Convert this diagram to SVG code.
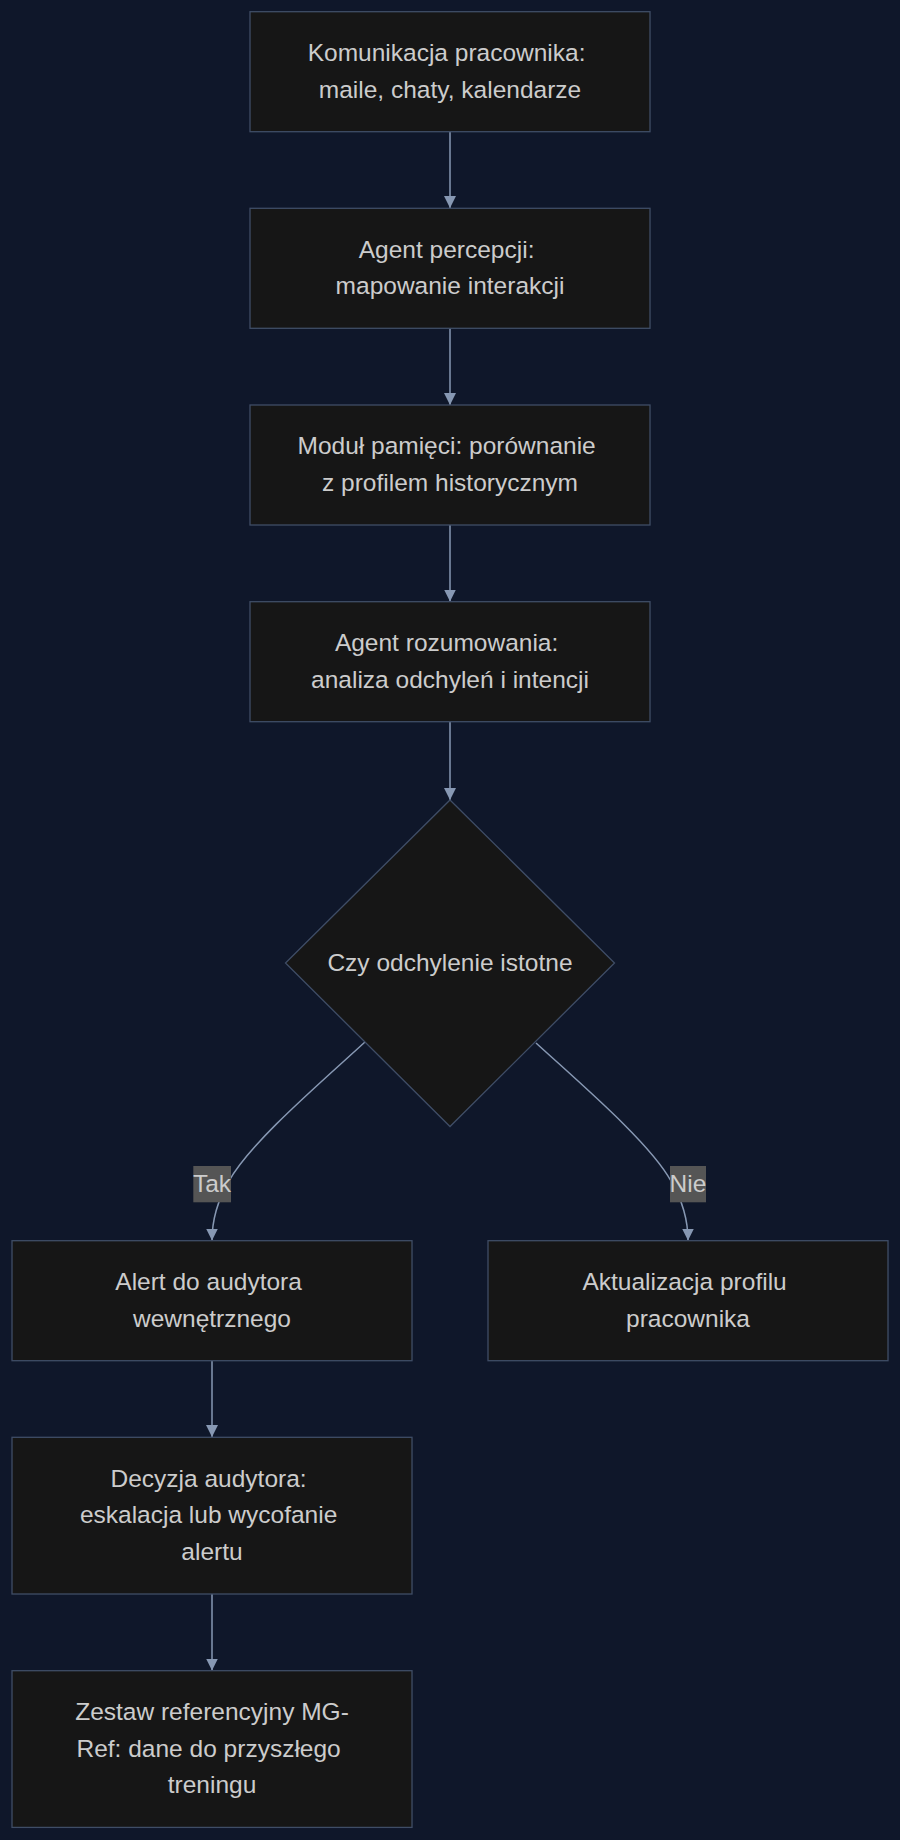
<svg xmlns="http://www.w3.org/2000/svg" width="900" height="1840" viewBox="0 0 900 1840">
<defs>
<style>
.node rect,.node polygon{fill:#161616;stroke:#3f4d66;stroke-width:1.3}
.node text,.lbl text{font-family:"Liberation Sans",Arial,sans-serif;font-size:24.5px;fill:#cccccc;text-anchor:middle}
.edge{fill:none;stroke:#8798b3;stroke-width:1.5}
.lbl rect{fill:#555555}
</style>
<marker id="ah" viewBox="0 0 12 12" refX="12" refY="6" markerWidth="12" markerHeight="12" markerUnits="userSpaceOnUse" orient="auto">
<path d="M0,0 L12,6 L0,12 z" fill="#8798b3"/>
</marker>
</defs>
<rect x="0" y="0" width="900" height="1840" fill="#0f172a"/>
<g id="connectors">
<path class="edge" d="M450,132 L450,208" marker-end="url(#ah)"/>
<path class="edge" d="M450,328 L450,405" marker-end="url(#ah)"/>
<path class="edge" d="M450,525 L450,601.5" marker-end="url(#ah)"/>
<path class="edge" d="M450,722 L450,800" marker-end="url(#ah)"/>
<path class="edge" d="M365,1042 C318,1085 250,1143 229,1181 Q212,1210 212,1240.5" marker-end="url(#ah)"/>
<path class="edge" d="M536,1043 C582,1085 650,1143 671,1181 Q688,1210 688,1240.5" marker-end="url(#ah)"/>
<path class="edge" d="M212,1361 L212,1437" marker-end="url(#ah)"/>
<path class="edge" d="M212,1594 L212,1670.5" marker-end="url(#ah)"/>
</g>
<g id="n1" class="node">
<rect x="250" y="11.7" width="400" height="120"/>
<text x="446.6" y="61">Komunikacja pracownika:</text>
<text x="450" y="97.7">maile, chaty, kalendarze</text>
</g>
<g id="n2" class="node">
<rect x="250" y="208.3" width="400" height="120"/>
<text x="446.6" y="257.6">Agent percepcji:</text>
<text x="450" y="294.3">mapowanie interakcji</text>
</g>
<g id="n3" class="node">
<rect x="250" y="405" width="400" height="120"/>
<text x="446.6" y="454.3">Moduł pamięci: porównanie</text>
<text x="450" y="491">z profilem historycznym</text>
</g>
<g id="n4" class="node">
<rect x="250" y="601.7" width="400" height="120"/>
<text x="446.6" y="651">Agent rozumowania:</text>
<text x="450" y="687.7">analiza odchyleń i intencji</text>
</g>
<g id="n5" class="node">
<polygon points="450,800 614.5,963 450,1126.5 285.5,963"/>
<text x="450" y="970.5">Czy odchylenie istotne</text>
</g>
<g id="n6" class="node">
<rect x="12" y="1240.7" width="400" height="120"/>
<text x="208.6" y="1290">Alert do audytora</text>
<text x="212" y="1326.7">wewnętrznego</text>
</g>
<g id="n7" class="node">
<rect x="488" y="1240.7" width="400" height="120"/>
<text x="684.6" y="1290">Aktualizacja profilu</text>
<text x="688" y="1326.7">pracownika</text>
</g>
<g id="n8" class="node">
<rect x="12" y="1437.3" width="400" height="156.7"/>
<text x="208.6" y="1486.7">Decyzja audytora:</text>
<text x="208.6" y="1523.3">eskalacja lub wycofanie</text>
<text x="212" y="1560">alertu</text>
</g>
<g id="n9" class="node">
<rect x="12" y="1670.7" width="400" height="156.7"/>
<text x="212" y="1720">Zestaw referencyjny MG-</text>
<text x="208.6" y="1756.7">Ref: dane do przyszłego</text>
<text x="212" y="1793.3">treningu</text>
</g>
<g id="labels">
<g class="lbl"><rect x="193.3" y="1166" width="37.7" height="36.3"/><text x="212" y="1192">Tak</text></g>
<g class="lbl"><rect x="670" y="1166" width="36" height="36.3"/><text x="688" y="1192">Nie</text></g>
</g>
</svg>
